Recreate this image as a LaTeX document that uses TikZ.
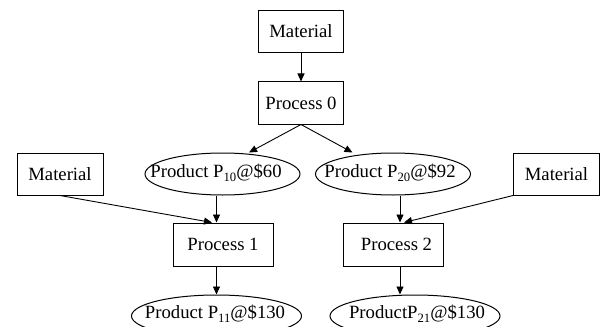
\documentclass[tikz,border=0pt]{standalone}
\usepackage{fontspec}
\setmainfont{Liberation Serif}
\usetikzlibrary{shapes.geometric,arrows.meta,calc}

% lowered, smaller index digits
\newcommand\lowsub[1]{\raisebox{-4.5pt}{\fontsize{12.7}{14}\selectfont #1}}

\begin{document}
\begin{tikzpicture}[x=1pt,y=-1pt,
  every node/.style={font=\fontsize{18.7}{22.4}\selectfont},
  box/.style={draw, line width=1pt, rectangle, minimum width=85pt, minimum height=42pt, inner sep=0pt},
  procbox/.style={box, minimum width=100pt, minimum height=43pt},
  prodell/.style={draw, line width=1pt, ellipse, minimum width=155pt, minimum height=42pt, inner sep=0pt},
  prodwide/.style={prodell, minimum width=170pt},
  prodtext/.style={anchor=base, inner sep=0pt},
  flow/.style={line width=0.9pt, -{Triangle[length=8pt,width=7pt]}}]

\useasboundingbox (0,0) rectangle (601,326);

% top chain
\node[box] (m0) at (301,31.5) {Material};
\node[box] (p0) at (301,103) {Process 0};

% side materials
\node[box, minimum width=86pt] (ml) at (60,174) {Material};
\node[box, minimum width=86pt] (mr) at (556.5,174) {Material};

% intermediate products
\node[prodell] (e10) at (222.5,174) {};
\node[prodtext] (e10t) at (216,177) {Product P\lowsub{10}@\$60};
\node[prodell] (e20) at (393,174) {};
\node[prodtext] (e20t) at (390,177) {Product P\lowsub{20}@\$92};

% second-stage processes
\node[procbox] (pr1) at (223,244.5) {Process 1};
\node[procbox] (pr2) at (393,244.5) {\hspace*{7pt}Process 2};

% final products
\node[prodwide] (e11) at (216.5,316) {};
\node[prodtext] (e11t) at (215,318) {Product P\lowsub{11}@\$130};
\node[prodwide] (e21) at (415,316) {};
\node[prodtext] (e21t) at (417,318) {ProductP\lowsub{21}@\$130};

% arrow end points on the upper rims
\coordinate (in10) at ($(e10.north)+(26.5,0)$);
\coordinate (in20) at ($(e20.north)+(-40.5,0)$);
\coordinate (in21) at ($(e21.north)+(-15,0)$);

% connectors
\draw[flow] (m0.south) -- (p0.north);
\draw[flow] (p0.south) -- (in10);
\draw[flow] (p0.south) -- (in20);

\draw[flow] ($(e10.south)+(-6,0)$) -- ($(pr1.north)+(-6.5,0)$);
\draw[flow] (ml.south) -- ($(pr1.north)+(-11,0)$);

\draw[flow] ($(e20.south)+(7,0)$) -- ($(pr2.north)+(7,0)$);
\draw[flow] (mr.south west) -- ($(pr2.north)+(11,0)$);

\draw[flow] ($(pr1.south)+(-6.5,0)$) -- (e11.north);
\draw[flow] ($(pr2.south)+(7,0)$) -- (in21);
\end{tikzpicture}
\end{document}
